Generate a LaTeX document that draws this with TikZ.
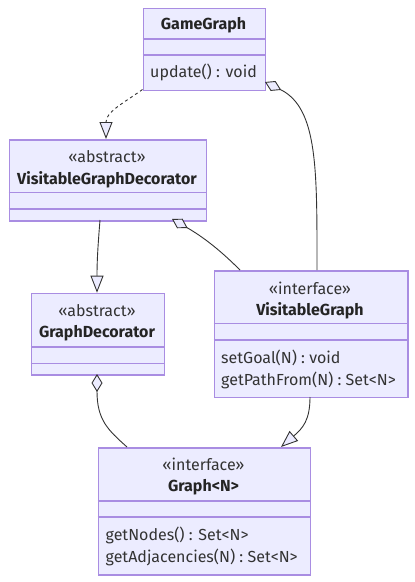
\documentclass[tikz,border=0pt]{standalone}
\usepackage{fontspec}
\setmainfont{Fira Sans}
\usetikzlibrary{arrows.meta}
\definecolor{boxfill}{HTML}{ECECFF}
\definecolor{boxline}{HTML}{9370DB}
\definecolor{ink}{HTML}{333333}
\tikzset{
  umlbox/.style={draw=boxline!80, fill=boxfill, line width=1.5pt, inner sep=0pt, rectangle, anchor=north west},
  divider/.style={draw=boxline!80, line width=1.5pt},
  title/.style={font=\fontsize{16}{18}\selectfont\bfseries, text=ink!70!black, inner sep=0pt},
  stereo/.style={font=\fontsize{16}{18}\selectfont, text=ink, inner sep=0pt},
  member/.style={font=\fontsize{16}{18}\selectfont, text=ink, inner sep=0pt, anchor=west},
  edge/.style={draw=ink, line width=0.9pt},
  realize/.style={edge, -{Triangle[length=17pt,width=13pt,fill=boxfill]}},
  aggr/.style={edge, {Diamond[length=18pt,width=11pt,fill=boxfill]}-},
}
\begin{document}
\begin{tikzpicture}[x=1pt,y=-1pt]
\useasboundingbox (0,0) rectangle (415,582);
% GameGraph
\node[umlbox, minimum width=122pt, minimum height=82pt] (gg) at (142.5,7.5) {};
\draw[divider] (142.5,39) -- (264.5,39);
\draw[divider] (142.5,55) -- (264.5,55);
\node[title] (ggt) at (203.5,25.5) {GameGraph};
\node[member] (ggm1) at (150,72) {update() : void};
% VisitableGraphDecorator
\node[umlbox, minimum width=197pt, minimum height=81pt] (vgd) at (8.5,139) {};
\draw[divider] (8.5,192.7) -- (205.5,192.7);
\draw[divider] (8.5,209) -- (205.5,209);
\node[stereo] (vgds) at (107,157) {«abstract»};
\node[title] (vgdt) at (107,179.5) {VisitableGraphDecorator};
% GraphDecorator
\node[umlbox, minimum width=133pt, minimum height=81.5pt] (gd) at (30.5,292.7) {};
\draw[divider] (30.5,347) -- (163.5,347);
\draw[divider] (30.5,363.3) -- (163.5,363.3);
\node[stereo] (gds) at (97,311) {«abstract»};
\node[title] (gdt) at (97,333) {GraphDecorator};
% VisitableGraph
\node[umlbox, minimum width=193.5pt, minimum height=126.5pt] (vg) at (213.5,270) {};
\draw[divider] (213.5,323.7) -- (407,323.7);
\draw[divider] (213.5,340) -- (407,340);
\node[stereo] (vgs) at (310,288) {«interface»};
\node[title] (vgt) at (310,310.5) {VisitableGraph};
\node[member] (vgm1) at (221,357.5) {setGoal(N) : void};
\node[member] (vgm2) at (221,380) {getPathFrom(N) : Set<N>};
% Graph<N>
\node[umlbox, minimum width=212pt, minimum height=127pt] (g) at (97.5,447) {};
\draw[divider] (97.5,501) -- (309.5,501);
\draw[divider] (97.5,517) -- (309.5,517);
\node[stereo] (gs) at (203.5,464.5) {«interface»};
\node[title] (gt) at (203.5,487.5) {Graph<N>};
\node[member] (gm1) at (105.5,535) {getNodes() : Set<N>};
\node[member] (gm2) at (105.5,557.5) {getAdjacencies(N) : Set<N>};
% connectors
\coordinate (e1s) at (142.5,89.5);
\coordinate (e1e) at (106,139);
\draw[realize, dashed] (e1s) .. controls (122,104) and (106,112) .. (e1e);
\coordinate (e2s) at (265,82);
\coordinate (e2e) at (317,270);
\draw[aggr] (e2s) .. controls (318,108) and (317,170) .. (e2e);
\coordinate (e3s) at (100,220);
\coordinate (e3e) at (97,292.7);
\draw[realize] (e3s) .. controls (98,245) and (97,260) .. (e3e);
\coordinate (e4s) at (172,219);
\coordinate (e4e) at (240,270);
\draw[aggr] (e4s) .. controls (205,238) and (222,252) .. (e4e);
\coordinate (e5s) at (97,374);
\coordinate (e5e) at (127,447);
\draw[aggr] (e5s) .. controls (97,420) and (108,430) .. (e5e);
\coordinate (e6s) at (310,397);
\coordinate (e6e) at (281,447);
\draw[realize] (e6s) .. controls (310,420) and (303,428) .. (e6e);
\end{tikzpicture}
\end{document}
